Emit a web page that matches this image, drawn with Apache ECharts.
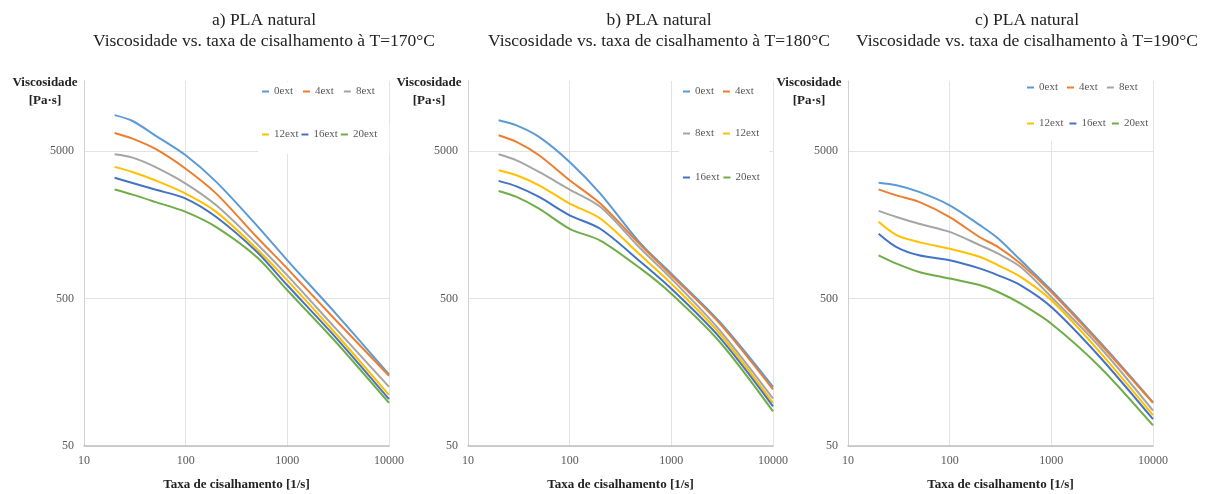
<!DOCTYPE html>
<html>
<head>
<meta charset="utf-8">
<title>PLA natural - viscosidade</title>
<script src="https://cdn.jsdelivr.net/npm/echarts@6/dist/echarts.min.js"></script>
<style>
    html, body {margin: 0; padding: 0; background: #fff;}
    #chart {width: 1213px; height: 494px;}
</style>
</head>
<body>
<div id="chart"></div>
<script>
// taxa de cisalhamento [1/s]
var shearAB = [20, 30, 50, 100, 200, 500, 1000, 3000, 10000];
var shearC = [20, 30, 50, 100, 200, 300, 500, 1000, 3000, 10000];

var names = ['0ext', '4ext', '8ext', '12ext', '16ext', '20ext'];
var colors = ['#5B9BD5', '#ED7D31', '#A5A5A5', '#FFC000', '#4472C4', '#70AD47'];

var titles = [
    'a) PLA natural\nViscosidade vs. taxa de cisalhamento à T=170°C',
    'b) PLA natural\nViscosidade vs. taxa de cisalhamento à T=180°C',
    'c) PLA natural\nViscosidade vs. taxa de cisalhamento à T=190°C'
];

// viscosidade [Pa·s], T=170°C
var a0ext = [8800, 8030, 6420, 4700, 3100, 1570, 910, 396, 153];
var a4ext = [6660, 6100, 5210, 3810, 2580, 1310, 800, 357, 150];
var a8ext = [4770, 4530, 3920, 3020, 2150, 1180, 720, 313, 126];
var a12ext = [3920, 3620, 3180, 2580, 1940, 1090, 665, 289, 111];
var a16ext = [3310, 3050, 2750, 2390, 1790, 1040, 616, 272, 104];
var a20ext = [2750, 2540, 2270, 1940, 1530, 959, 570, 254, 98];

// T=180°C
var b0ext = [8120, 7500, 6260, 4230, 2580, 1180, 739, 347, 126];
var b4ext = [6420, 5790, 4700, 3180, 2210, 1150, 720, 338, 121];
var b8ext = [4770, 4340, 3620, 2750, 2100, 1090, 684, 305, 105];
var b12ext = [3720, 3440, 2940, 2210, 1750, 984, 632, 289, 98];
var b16ext = [3150, 2890, 2450, 1840, 1490, 887, 584, 272, 93];
var b20ext = [2690, 2450, 2040, 1490, 1240, 799, 540, 254, 86];

// T=190°C
var c0ext = [3060, 2940, 2650, 2150, 1570, 1280, 910, 570, 254, 99];
var c4ext = [2760, 2510, 2270, 1790, 1300, 1120, 864, 555, 248, 98];
var c8ext = [1970, 1790, 1610, 1420, 1150, 1010, 820, 513, 235, 87];
var c12ext = [1660, 1350, 1210, 1090, 959, 842, 702, 487, 217, 81];
var c16ext = [1380, 1120, 984, 910, 799, 720, 616, 439, 201, 76];
var c20ext = [984, 864, 759, 684, 616, 555, 462, 338, 172, 69];

var panels = [
    {left: 84, center: 264, shear: shearAB, data: [a0ext, a4ext, a8ext, a12ext, a16ext, a20ext]},
    {left: 468, center: 659, shear: shearAB, data: [b0ext, b4ext, b8ext, b12ext, b16ext, b20ext]},
    {left: 848, center: 1027, shear: shearC, data: [c0ext, c4ext, c8ext, c12ext, c16ext, c20ext]}
];

var serif = 'Liberation Serif';

var legendRow = function (left, top, data, gap, padding) {
    return {
        left: left,
        top: top,
        orient: 'horizontal',
        data: data,
        icon: 'rect',
        itemWidth: 7,
        itemHeight: 2,
        itemGap: gap,
        padding: padding,
        backgroundColor: '#fff',
        selectedMode: false,
        textStyle: {fontFamily: serif, fontSize: 11, color: '#595959'}
    };
};

var option = {
    animation: false,
    backgroundColor: '#fff',
    color: colors,
    title: [],
    grid: [],
    xAxis: [],
    yAxis: [],
    series: [],
    legend: [
        legendRow(258, 82, ['0ext', '4ext', '8ext'], 10, [4, 12, 28, 4]),
        legendRow(258, 125, ['12ext', '16ext', '20ext'], 3, [4, 12, 14, 4]),
        legendRow(679, 82, ['0ext', '4ext'], 9, [4, 10, 28, 4]),
        legendRow(679, 124, ['8ext', '12ext'], 9, [4, 10, 28, 4]),
        legendRow(679, 168, ['16ext', '20ext'], 4, [4, 10, 12, 4]),
        legendRow(1023, 78, ['0ext', '4ext', '8ext'], 9, [4, 2, 22, 4]),
        legendRow(1023, 114, ['12ext', '16ext', '20ext'], 6, [4, 2, 12, 4])
    ]
};

panels.forEach(function (p, i) {
    option.title.push({
        text: titles[i],
        left: p.center,
        top: 10,
        padding: 0,
        textAlign: 'center',
        textStyle: {fontFamily: serif, fontSize: 17.5, fontWeight: 'normal', color: '#222', lineHeight: 21}
    });
    option.grid.push({left: p.left, top: 81, width: 305, height: 365, outerBoundsMode: 'none'});
    option.xAxis.push({
        gridIndex: i,
        type: 'log',
        logBase: 10,
        min: 10,
        max: 10000,
        interval: 1,
        name: 'Taxa de cisalhamento [1/s]',
        nameLocation: 'middle',
        nameGap: 32,
        nameTextStyle: {fontFamily: serif, fontSize: 13, fontWeight: 'bold', color: '#222'},
        axisLine: {lineStyle: {color: '#bfbfbf', width: 1.5}},
        axisTick: {show: false},
        axisLabel: {fontFamily: serif, fontSize: 12, color: '#595959', margin: 9,
            formatter: function (v) { return Math.round(v); }},
        splitLine: {show: true, lineStyle: {color: '#e3e3e3'}}
    });
    option.yAxis.push({
        gridIndex: i,
        type: 'log',
        logBase: 10,
        min: 50,
        max: 15000,
        interval: 1,
        name: 'Viscosidade\n[Pa·s]',
        nameLocation: 'end',
        nameGap: 7,
        nameTextStyle: {fontFamily: serif, fontSize: 13, fontWeight: 'bold', color: '#222',
            align: 'center', verticalAlign: 'top', lineHeight: 18, padding: [0, 78, 0, 0]},
        axisLine: {show: true, lineStyle: {color: '#d0d0d0'}},
        axisTick: {show: false},
        axisLabel: {fontFamily: serif, fontSize: 12, color: '#595959', margin: 10, showMaxLabel: false,
            formatter: function (v) { return Number(v.toPrecision(1)); }},
        splitLine: {show: true, showMaxLine: false, lineStyle: {color: '#e3e3e3'}}
    });
    p.data.forEach(function (vals, k) {
        option.series.push({
            name: names[k],
            type: 'line',
            xAxisIndex: i,
            yAxisIndex: i,
            smooth: 0.3,
            showSymbol: false,
            lineStyle: {width: 2, color: colors[k]},
            itemStyle: {color: colors[k]},
            data: p.shear.map(function (x, j) { return [x, vals[j]]; })
        });
    });
});

var chart = echarts.init(document.getElementById('chart'));
chart.setOption(option);
</script>
</body>
</html>
